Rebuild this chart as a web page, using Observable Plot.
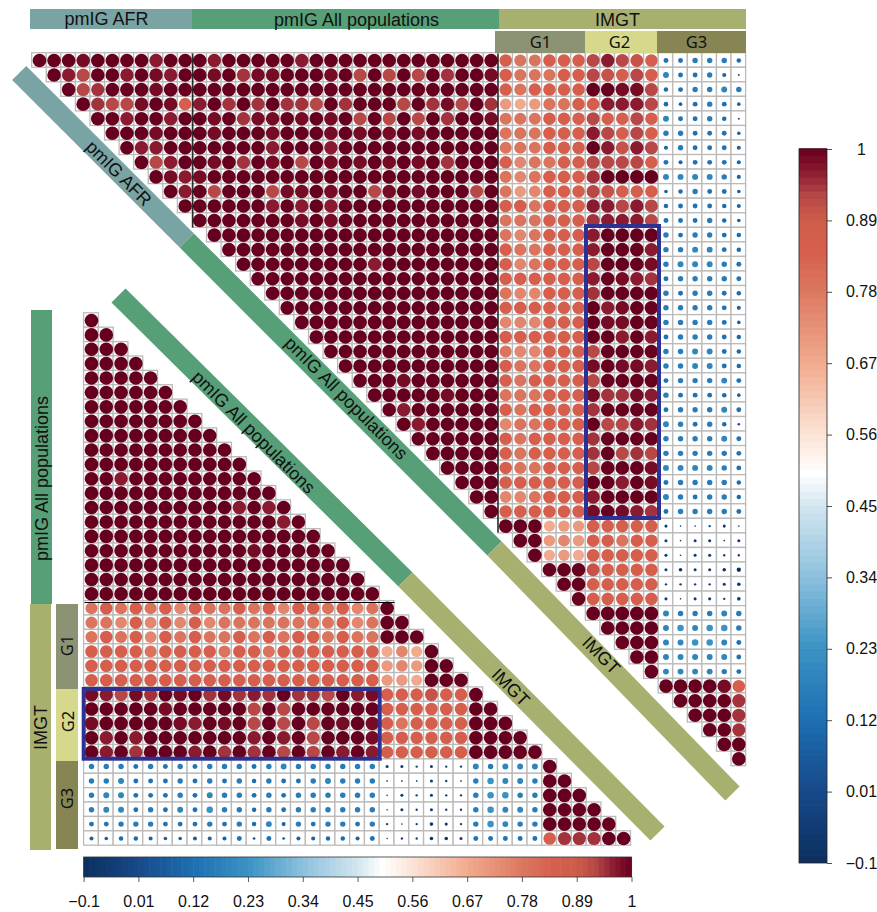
<!DOCTYPE html>
<html>
<head>
<meta charset="utf-8">
<script src="https://cdn.jsdelivr.net/npm/d3@7"></script>
<script src="https://cdn.jsdelivr.net/npm/@observablehq/plot@0.6"></script>
<style>
html,body{margin:0;padding:0;background:#fff}
#chart{position:relative;width:877px;height:912px;overflow:hidden}
#chart svg{position:absolute;left:0;top:0}
</style>
</head>
<body>
<div id="chart"></div>
<script>
const levels = {
  A:1, B:.985, C:.965, D:.945, E:.925, F:.905, G:.85, H:.79, I:.75, J:.705, K:.67,
  1:.02, 2:.04, 3:.07, 4:.09, 5:.11, 6:.13, 7:.16, 8:.19, 9:.23,
  t:-.1, u:-.07, v:-.05, w:-.03, x:-.015
};

// Upper matrix (49 variables). Each row starts at max(row, first column of block)
const upperAFR = ["AAABAAAACAA","ACEAACABCA","AEDAAABAA","ADEEBABG","AACAACA","AAABAA","ACCAA","AECA","ABC","AC","A"];
const upperAll = [
"ACAAAAACAAAAAAAAAAAAA","ABADBBAAABAEAEAEADAAB","AAAAAAAAAAAAAAAAAAAAA","CADADADDEADAAAEADBEAD",
"ABADBBABABAEAEAEADAAB","ABAAABAAABABABABAAAAA","AAAAACAAACAAAAAAAAAAA","ABADABAEABABABABADAAA",
"BAAAAAAAAAAAAAAAAAAAA","AEAAAEBBABAAEBABAAAEA","AAAAACACACAAAAAAAAAAA","AAAAAAABABAAAAAAAAAAA",
"AAAAAAAAAAAAAAAAAAAA","AAAAAAAAAAAAAAAAAAA","AAAAAAAAACAAAAAAAA","AAAAAAAAAAAAAAAAA",
"AAAAAAAAAAAAAAAA","AAAAAAAAAAAAAAA","AAAAAAAAAAAAAA","AAAAAAAAAAAAA","AAAAAAAAAAAA","AAAAAAAAAAA",
"AAABAAAAAA","AAAAABAAA","ACAAAAAA","ACAAAAA","AAAAAA","AAAAA","AAAA","AAA","AA","A"];
const upperG1 = [
"GHHGGG","GHHHGG","GHGGGG","JKJHHG","HHHGGG","HHHGGG","HHHGGG","GIHHGG","HIHGGG","HJIGGG","GGHGGG","HHHGGG",
"HIHGGG","GHHGGG","GIHGGG","GGGGGG","HIIGGG","GGGGGG","IIIGGG","GGGGGG","HIIGGG","GHHGGG","GHGGGG","HHHGGG",
"GHGGGG","IHHGGG","GHGGGG","GHGGGG","GHHGGG","GGGGGG","IIHGGG","GGGGGG",
"AAAKJJ","AAJIJ","AKJK","AAA","AA","A"];
const upperG2 = [
"ECEFG","EFGEG","AABBE","GCCCE","EGGEG","CEGEG","ACFCE","EEEEG","DAAAA","EFGGG","CCECE","DCCCE",
"CAAAA","CAAAC","EAAAB","CABCD","DAAAA","ACBAA","ABBAA","AACAC","EAAAA","BABBC","EAAAA","BDDBC",
"DAAAA","AEECD","DAAAA","DAEDE","EAAAB","AACAB","CAAAA","BABCD",
"GGGGG","GGHGG","GGGGG","FGGGG","GGGGG","GGGGG","AAAAA","AAAA","AAA","AA","A"];
const upperG3 = [
"667775","866741","567787","536763","866751","776663","476664","646664","888874","357663","566654","666753",
"767765","778865","788876","677776","767765","777764","777763","677765","778865","778865","677786","766653",
"677786","876752","777786","777776","888876","677775","876775","677776",
"vxxwvx","vxvvxv","vxvvww","vuvvut","wwwwvu","vxvvwu",
"877787","898997","889986","888886","888876",
"AAAABG","AAAAD","AAAD","AAD","AA","A"];

// Lower matrix (37 variables). Rows run from column 0 up to the diagonal
const lowerAll = ["A","AA","AAA","AAAA","AAAAA","AAAAAA","AAAAAAA","AAAAAAAA","AAAAAAAAA","AAAAAAAAAA","AAAAAAAAAAA",
"AACAAAAAAAAA","AAAAAAAAAAAAA","AAAAAAAAAACACA","AAAAAAAAAAAAACA","AAAAAAAAAAAAAAAA","AAAAAAAAAAABAAAAA",
"AAAAAAAAAAAAAAAAAA","AAAAAAAAAAAAAAAAAAA","AAAAAAAAAAAAAAAAAAAA"];
const lowerLeft = [
"HGHGHGIGHHGHGIGGHGIH","HHIGIGIGIHHHHHHHHGIH","HGHGIGHGHHGHGHGGHGHH","GGGGHGGGGHGGHGGGGGGG","GGGGGGGGGGGGGGGGGGGG","GGGGGGGGGGGGGGGGGGGG",
"BCEBDABADBDCDADDEACB","AAAAABAAAAAEAEAAAAAA","BAAAAABCABAEAEAEABAB","ACACAAAAAAACACAEAAAB","ACADAAACADADAEAEACAC",
"77767676777678777777","77866676767576678777","78866676877676777777","78867686977576777777","66777666767584767767","43554334446262445546"];
const lowerIMGT = [
"A","AA","AAA","KIKA","JIJAA","JJKAAA","GGGFGGA","GGGGGGAA","GHGGGGAAA","GGGGGGAAAA","GGGGGGAAAAA",
"vvwvww87888A","xxxvwx79887AA","xvwvww79977AAA","xvwvww79887AAAA","wxwuvw79877AAAAA","xwwuuv66666GDDDAA"];

// Colour bar ticks
const tickValues = [-0.1,0.01,0.12,0.23,0.34,0.45,0.56,0.67,0.78,0.89,1];
const tickLabels = ["\u22120.1","0.01","0.12","0.23","0.34","0.45","0.56","0.67","0.78","0.89","1"];

// Colour scale stops
const colorStops  = [-0.1,0.01,0.12,0.23,0.34,0.45,0.5,0.56,0.67,0.78,0.84,0.89,0.93,0.965,1];
const colorValues = ["#0c2f5e","#17498a","#1d6fb2","#3a93c4","#8cc0dd","#d3e6f0","#ffffff","#fbe4d6","#f1aa8e","#dc7860","#d6604d","#cf5c4a","#b44546","#8a1a30","#67001f"];

// Header and side strips
const stripColors = {afr:"#7aa3a3", all:"#569f77", imgt:"#a8b06f", g1:"#8b9374", g2:"#d6d98c", g3:"#868553"};
const strips = [
  {x1:30,x2:192,y1:9,y2:29,fill:stripColors.afr},
  {x1:192,x2:499,y1:9,y2:29,fill:stripColors.all},
  {x1:499,x2:746,y1:9,y2:29,fill:stripColors.imgt},
  {x1:495,x2:585,y1:31,y2:53,fill:stripColors.g1},
  {x1:585,x2:657,y1:31,y2:53,fill:stripColors.g2},
  {x1:657,x2:746,y1:31,y2:53,fill:stripColors.g3},
  {x1:31,x2:52,y1:310,y2:604,fill:stripColors.all},
  {x1:30,x2:51,y1:604,y2:850,fill:stripColors.imgt},
  {x1:56,x2:78,y1:604,y2:689,fill:stripColors.g1},
  {x1:56,x2:78,y1:689,y2:761,fill:stripColors.g2},
  {x1:56,x2:78,y1:761,y2:849,fill:stripColors.g3}
];
const bands = [
  {x1:18.7,y1:72.5,x2:186.3,y2:240,stroke:stripColors.afr},
  {x1:186.3,y1:240,x2:494,y2:548,stroke:stripColors.all},
  {x1:494,y1:548,x2:732,y2:793,stroke:stripColors.imgt},
  {x1:118,y1:295,x2:405,y2:579,stroke:stripColors.all},
  {x1:405,y1:579,x2:657,y2:833,stroke:stripColors.imgt}
];
const boxes = [
  {x1:586,x2:659,y1:226,y2:518},
  {x1:83.7,x2:379.7,y1:689,y2:758.7}
];
const blackLines = [
  {x1:192.3,x2:192.3,y1:53,y2:227},
  {x1:497.5,x2:497.5,y1:53,y2:532},
  {x1:84,x2:394,y1:602,y2:602}
];
const labelsFlat = [
  {x:106,y:19,t:"pmIG AFR"},{x:356,y:19.5,t:"pmIG All populations"},{x:617,y:19.5,t:"IMGT"}
];
const labelsG = [{x:540,y:42,t:"G1"},{x:619,y:42.5,t:"G2"},{x:696,y:42,t:"G3"}];
const labelsDiag = [
  {x:118,y:173,t:"pmIG AFR"},{x:345.5,y:398,t:"pmIG All populations"},{x:600.5,y:655,t:"IMGT"},
  {x:253,y:432,t:"pmIG All populations"},{x:510,y:687,t:"IMGT"}
];
const labelsVert = [{x:42,y:478,t:"pmIG All populations"},{x:41,y:727,t:"IMGT"}];
const labelsVertG = [{x:67,y:645,t:"G1"},{x:68,y:721,t:"G2"},{x:67,y:798,t:"G3"}];

// Decode rows of codes into cells
function decode(rows, firstRow, firstCol) {
  const out = [];
  rows.forEach((s, k) => {
    const r = firstRow + k;
    const c0 = Math.max(r, firstCol);
    [...s].forEach((ch, i) => out.push({r, c: c0 + i, v: levels[ch]}));
  });
  return out;
}
function decodeLower(rows, firstRow, firstCol) {
  const out = [];
  rows.forEach((s, k) => {
    [...s].forEach((ch, i) => out.push({r: firstRow + k, c: firstCol + i, v: levels[ch]}));
  });
  return out;
}
const upperCells = [
  ...decode(upperAFR,0,0), ...decode(upperAll,0,11), ...decode(upperG1,0,32), ...decode(upperG2,0,38), ...decode(upperG3,0,43)
];
const lowerCells = [
  ...decodeLower(lowerAll,0,0), ...decodeLower(lowerLeft,20,0), ...decodeLower(lowerIMGT,20,20)
];

const colorScale = {type:"linear", domain:colorStops, range:colorValues, clamp:true};
const base = {width:877, height:912, margin:0, style:{background:"transparent", maxWidth:"none"}};
const chart = document.getElementById("chart");

function matrix(cells, n, xRange, yRange) {
  return Plot.plot({
    ...base,
    x:{type:"band", domain:d3.range(n), range:xRange, padding:0, round:false, axis:null},
    y:{type:"band", domain:d3.range(n), range:yRange, padding:0, round:false, axis:null},
    color:colorScale,
    r:{domain:[0,1], range:[0,6.8]},
    marks:[
      Plot.cell(cells,{x:"c",y:"r",fill:"white",stroke:"#bababa",strokeWidth:1.3}),
      Plot.dot(cells,{x:"c",y:"r",r:d=>Math.abs(d.v),fill:"v"})
    ]
  });
}
chart.append(matrix(upperCells,49,[31.7,745.6],[52.7,765.7]));
chart.append(matrix(lowerCells,37,[83.6,630.5],[312.8,845.2]));

const sans = "'Liberation Sans',Arial,sans-serif";
const myriad = "'Noto Sans',sans-serif";
const textOpts = {x:"x",y:"y",text:"t",fill:"#111",fontFamily:sans,fontSize:18};
chart.append(Plot.plot({
  ...base,
  x:{type:"identity",axis:null},
  y:{type:"identity",axis:null},
  color:{type:"identity"},
  marks:[
    Plot.rect(strips,{x1:"x1",x2:"x2",y1:"y1",y2:"y2",fill:"fill"}),
    Plot.link(bands,{x1:"x1",y1:"y1",x2:"x2",y2:"y2",stroke:"stroke",strokeWidth:20,strokeLinecap:"butt"}),
    Plot.link(blackLines,{x1:"x1",y1:"y1",x2:"x2",y2:"y2",stroke:"#000",strokeWidth:1.2}),
    Plot.rect(boxes,{x1:"x1",x2:"x2",y1:"y1",y2:"y2",fill:"none",stroke:"#2e3192",strokeWidth:4}),
    Plot.text(labelsFlat,textOpts),
    Plot.text(labelsDiag,{...textOpts,rotate:45}),
    Plot.text(labelsVert,{...textOpts,rotate:-90}),
    Plot.text(labelsG,{...textOpts,fontFamily:myriad,fontSize:16.5}),
    Plot.text(labelsVertG,{...textOpts,fontFamily:myriad,fontSize:16.5,rotate:-90})
  ]
}));

// Colour bar ramps
const rampStep = 0.011;
const ramp = d3.range(-0.1, 1 - rampStep/2, rampStep);

chart.append(Plot.plot({
  ...base,
  x:{domain:[-0.1,1], range:[83.6,631.5], axis:null},
  y:{type:"identity",axis:null},
  color:colorScale,
  marks:[
    Plot.rect(ramp,{x1:d=>d,x2:d=>d+rampStep*1.1,y1:857,y2:877,fill:d=>d+rampStep/2}),
    Plot.rect([0],{x1:-0.1,x2:1,y1:857,y2:877,fill:"none",stroke:"#333",strokeWidth:0.8}),
    Plot.ruleX(tickValues,{x:d=>d,y1:877,y2:882,stroke:"#333",strokeWidth:0.8}),
    Plot.text(tickValues,{x:d=>d,y:901.5,text:(d,i)=>tickLabels[i],fill:"#111",fontFamily:sans,fontSize:16})
  ]
}));

chart.append(Plot.plot({
  ...base,
  x:{type:"identity",axis:null},
  y:{domain:[-0.1,1], range:[863,149], axis:null},
  color:colorScale,
  marks:[
    Plot.rect(ramp,{y1:d=>d,y2:d=>d+rampStep*1.1,x1:799,x2:827,fill:d=>d+rampStep/2}),
    Plot.rect([0],{y1:-0.1,y2:1,x1:799,x2:827,fill:"none",stroke:"#222",strokeWidth:0.8}),
    Plot.ruleY(tickValues,{y:d=>d,x1:827,x2:832,stroke:"#222",strokeWidth:0.8}),
    Plot.text(tickValues,{y:d=>d,x:861,text:(d,i)=>tickLabels[i],fill:"#111",fontFamily:sans,fontSize:16})
  ]
}));
</script>
</body>
</html>
